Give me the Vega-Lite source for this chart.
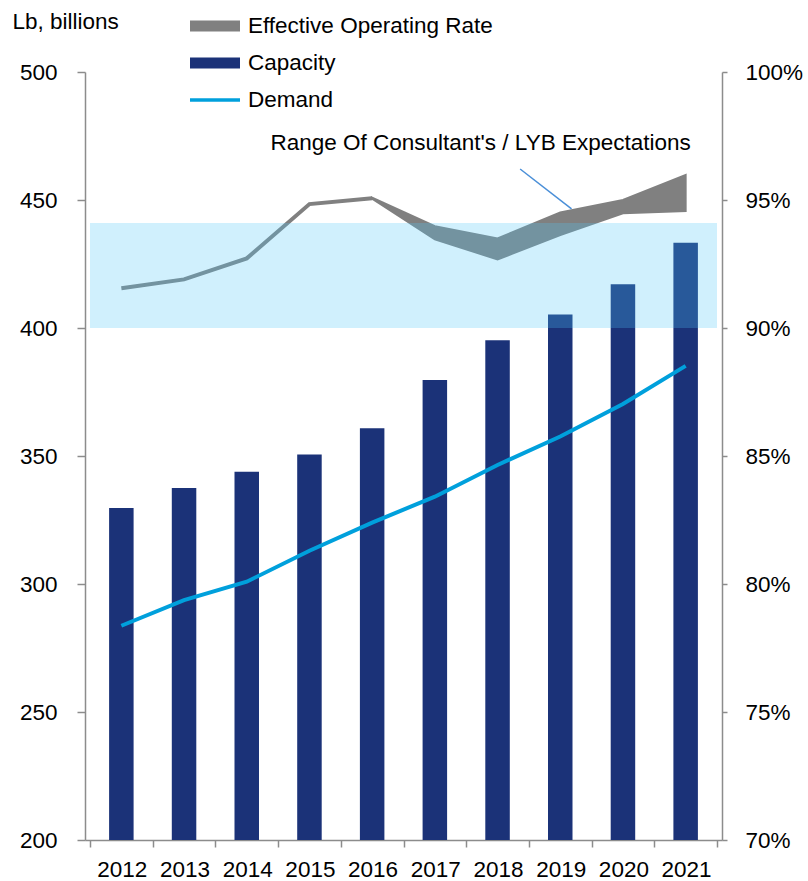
{
  "$schema": "https://vega.github.io/schema/vega-lite/v6.json",
  "width": 637,
  "height": 768,
  "autosize": {"type": "none"},
  "padding": {"left": 85, "top": 72, "right": 86, "bottom": 41},
  "config": {
    "font": "Liberation Sans",
    "view": {"stroke": null},
    "axis": {
      "grid": false,
      "domainColor": "#8c8c8c",
      "domainWidth": 1.5,
      "tickColor": "#8c8c8c",
      "tickWidth": 1.5,
      "labelColor": "#000000",
      "labelFontSize": 22.5,
      "labelFont": "Liberation Sans"
    }
  },
  "datasets": {
    "main": [
      {"year": 2012, "capacity": 329.7, "demand": 283.7},
      {"year": 2013, "capacity": 337.5, "demand": 293.7},
      {"year": 2014, "capacity": 343.8, "demand": 300.9},
      {"year": 2015, "capacity": 350.6, "demand": 313.0},
      {"year": 2016, "capacity": 360.8, "demand": 324.0},
      {"year": 2017, "capacity": 379.7, "demand": 334.1},
      {"year": 2018, "capacity": 395.2, "demand": 346.5},
      {"year": 2019, "capacity": 405.3, "demand": 357.6},
      {"year": 2020, "capacity": 417.1, "demand": 370.3},
      {"year": 2021, "capacity": 433.3, "demand": 385.2}
    ],
    "rate": [
      {"year": 2012, "rate": 0.9155},
      {"year": 2013, "rate": 0.9190},
      {"year": 2014, "rate": 0.9272},
      {"year": 2015, "rate": 0.9484},
      {"year": 2016, "rate": 0.9507}
    ],
    "range": [
      {"year": 2016, "hi": 0.9509, "lo": 0.9505},
      {"year": 2017, "hi": 0.9398, "lo": 0.9346},
      {"year": 2018, "hi": 0.9350, "lo": 0.9268},
      {"year": 2019, "hi": 0.9451, "lo": 0.9363},
      {"year": 2020, "hi": 0.9500, "lo": 0.9448},
      {"year": 2021, "hi": 0.9598, "lo": 0.9457}
    ],
    "band": [{"from": 2011.5, "to": 2021.5, "lo": 0.90, "hi": 0.941}],
    "note": [{"x": 2017.73, "y": 0.9723, "label": "Range Of Consultant's / LYB Expectations"}],
    "pointer": [
      {"x": 2018.36, "y": 0.9621},
      {"x": 2019.18, "y": 0.9465}
    ]
  },
  "layer": [
    {
      "layer": [
        {
          "data": {"name": "main"},
          "mark": {"type": "bar", "width": 24.5, "color": "#1B3278"},
          "encoding": {
            "x": {
              "field": "year", "type": "quantitative",
              "scale": {"domain": [2011.5, 2021.5], "nice": false, "zero": false},
              "axis": {
                "title": null,
                "values": [2011.5, 2012.5, 2013.5, 2014.5, 2015.5, 2016.5, 2017.5, 2018.5, 2019.5, 2020.5, 2021.5],
                "labelExpr": "datum.value < 2021 ? format(datum.value + 0.5, 'd') : ''",
                "labelOffset": 31.8,
                "labelFlush": false,
                "labelOverlap": false,
                "tickSize": 7,
                "labelPadding": 11
              }
            },
            "y": {
              "field": "capacity", "type": "quantitative",
              "scale": {"domain": [200, 500], "nice": false, "zero": false},
              "axis": {
                "orient": "left",
                "values": [200, 250, 300, 350, 400, 450, 500],
                "tickSize": 8,
                "labelPadding": 20,
                "title": "Lb, billions",
                "titleAngle": 0,
                "titleAlign": "left",
                "titleBaseline": "alphabetic",
                "titleX": -73,
                "titleY": -44,
                "titleFontSize": 22.5,
                "titleFontWeight": "normal",
                "titleColor": "#000000",
                "titleFont": "Liberation Sans"
              }
            },
            "y2": {"datum": 200},
            "color": {
              "datum": "Capacity", "type": "nominal",
              "scale": {
                "domain": ["Effective Operating Rate", "Capacity", "Demand"],
                "range": ["#808080", "#1B3278", "#00A0DC"]
              },
              "legend": {
                "orient": "none",
                "legendX": 105,
                "legendY": -71,
                "title": null,
                "labelFontSize": 22.5,
                "labelColor": "#000000",
                "labelFont": "Liberation Sans",
                "labelLimit": 0,
                "labelOffset": 8,
                "symbolSize": 2500,
                "rowPadding": -2,
                "encode": {
                  "symbols": {
                    "update": {
                      "shape": {"signal": "datum.value === 'Demand' ? 'M-1,-0.07L1,-0.07L1,0.07L-1,0.07Z' : 'M-1,-0.22L1,-0.22L1,0.22L-1,0.22Z'"},
                      "fill": {"signal": "scale('color', datum.value)"},
                      "stroke": {"value": "transparent"},
                      "strokeWidth": {"value": 0},
                      "opacity": {"value": 1}
                    }
                  }
                }
              }
            }
          }
        },
        {
          "data": {"name": "main"},
          "mark": {"type": "line", "strokeWidth": 4},
          "encoding": {
            "x": {"field": "year", "type": "quantitative"},
            "y": {"field": "demand", "type": "quantitative"},
            "color": {"datum": "Demand", "type": "nominal"}
          }
        }
      ]
    },
    {
      "layer": [
        {
          "data": {"name": "rate"},
          "mark": {"type": "line", "strokeWidth": 4},
          "encoding": {
            "x": {"field": "year", "type": "quantitative"},
            "y": {
              "field": "rate", "type": "quantitative",
              "scale": {"domain": [0.70, 1.00], "nice": false, "zero": false},
              "axis": {
                "orient": "right",
                "values": [0.70, 0.75, 0.80, 0.85, 0.90, 0.95, 1.00],
                "format": ".0%",
                "tickSize": 5,
                "labelPadding": 18,
                "title": null
              }
            },
            "color": {"datum": "Effective Operating Rate", "type": "nominal"}
          }
        },
        {
          "data": {"name": "range"},
          "mark": {"type": "area", "stroke": "#808080", "strokeWidth": 2, "opacity": 1},
          "encoding": {
            "x": {"field": "year", "type": "quantitative"},
            "y": {"field": "hi", "type": "quantitative"},
            "y2": {"field": "lo"},
            "color": {"datum": "Effective Operating Rate", "type": "nominal"}
          }
        },
        {
          "data": {"name": "band"},
          "mark": {"type": "rect", "color": "#4EC6F8", "opacity": 0.265},
          "encoding": {
            "x": {"field": "from", "type": "quantitative"},
            "x2": {"field": "to"},
            "y": {"field": "lo", "type": "quantitative"},
            "y2": {"field": "hi"}
          }
        },
        {
          "data": {"name": "pointer"},
          "mark": {"type": "line", "color": "#4A8FD8", "strokeWidth": 1.5},
          "encoding": {
            "x": {"field": "x", "type": "quantitative"},
            "y": {"field": "y", "type": "quantitative"}
          }
        },
        {
          "data": {"name": "note"},
          "mark": {"type": "text", "fontSize": 22.5, "font": "Liberation Sans", "color": "#000000", "baseline": "middle", "align": "center"},
          "encoding": {
            "x": {"field": "x", "type": "quantitative"},
            "y": {"field": "y", "type": "quantitative"},
            "text": {"field": "label"}
          }
        }
      ]
    }
  ],
  "resolve": {"scale": {"y": "independent"}}
}
